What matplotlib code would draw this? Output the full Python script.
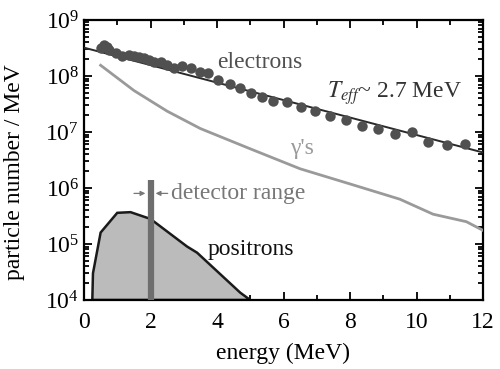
import matplotlib
matplotlib.use("Agg")
import matplotlib.pyplot as plt
from matplotlib.ticker import LogLocator, MultipleLocator, NullFormatter

plt.rcParams["font.family"] = ["Liberation Serif", "DejaVu Serif"]
plt.rcParams["mathtext.fontset"] = "stix"

# electron spectrum (measured points)
electron_energy = [0.5, 0.6, 0.7, 0.75, 0.96, 1.14, 1.35, 1.5, 1.65, 1.8, 1.95, 2.11, 2.32,
                   2.5, 2.71, 2.95, 3.22, 3.49, 3.73, 4.03, 4.39, 4.69, 5.02, 5.35, 5.68,
                   6.11, 6.53, 6.95, 7.4, 7.88, 8.36, 8.84, 9.35, 9.86, 10.35, 10.92, 11.46]
electron_counts = [3.2e8, 3.6e8, 3.3e8, 2.9e8, 2.6e8, 2.25e8, 2.35e8, 2.25e8, 2.15e8, 2.1e8,
                   1.9e8, 1.75e8, 1.75e8, 1.55e8, 1.4e8, 1.48e8, 1.38e8, 1.2e8, 1.12e8,
                   8.3e7, 7.1e7, 6.2e7, 4.9e7, 4.2e7, 3.6e7, 3.4e7, 2.75e7, 2.4e7, 1.95e7,
                   1.66e7, 1.29e7, 1.15e7, 9.3e6, 9.8e6, 6.5e6, 5.9e6, 6.2e6]

# exponential fit, T_eff ~ 2.7 MeV (straight on log axis)
fit_energy = [0, 12]
fit_counts = [3.2e8, 4.3e6]

# gamma spectrum
gamma_energy = [0.5, 1.5, 2.5, 3.5, 5.0, 6.5, 8.0, 9.5, 10.5, 11.5, 12.0]
gamma_counts = [1.55e8, 5.5e7, 2.35e7, 1.15e7, 5.0e6, 2.2e6, 1.18e6, 6.3e5, 3.4e5, 2.5e5, 1.75e5]

# positron spectrum
positron_energy = [0.25, 0.27, 0.5, 1.0, 1.4, 2.0, 3.1, 3.4, 4.7, 5.0]
positron_counts = [1e4, 3.0e4, 1.6e5, 3.6e5, 3.7e5, 2.8e5, 9.0e4, 7.0e4, 1.35e4, 1e4]

detector_energy = 2.0
detector_top = 1.4e6

fig = plt.figure(figsize=(5.0, 3.69), dpi=100)
ax = fig.add_axes([0.168, 0.187, 0.798, 0.759])

ax.fill(positron_energy, positron_counts, facecolor="#bbbbbb", edgecolor="#1a1a1a", lw=1.8,
        zorder=2)
ax.plot([detector_energy, detector_energy], [1e4, detector_top], color="#6e6e6e", lw=4.5,
        solid_capstyle="butt", zorder=3)
ax.plot(gamma_energy, gamma_counts, color="#9a9a9a", lw=2.0, zorder=3)
ax.plot(fit_energy, fit_counts, color="#2a2a2a", lw=1.4, zorder=4)
ax.plot(electron_energy, electron_counts, "o", color="#505050", ms=7.5, mec="none", zorder=5)

# detector range arrows
ax.annotate("", xy=(1.93, 8.0e5), xytext=(1.42, 8.0e5),
            arrowprops=dict(arrowstyle="-|>", color="#777777", lw=0.9, mutation_scale=7))
ax.annotate("", xy=(2.07, 8.0e5), xytext=(2.6, 8.0e5),
            arrowprops=dict(arrowstyle="-|>", color="#777777", lw=0.9, mutation_scale=7))

ax.text(2.62, 8.0e5, "detector range", color="#777777", fontsize=17, va="center", ha="left")
ax.text(4.0, 1.75e8, "electrons", color="#505050", fontsize=17, va="center", ha="left")
ax.text(7.3, 4.9e7, r"$T_{eff}$~ 2.7 MeV", color="#333333", fontsize=17, va="center",
        ha="left")
ax.text(6.2, 5.0e6, "γ's", color="#9a9a9a", fontsize=17, va="center", ha="left")
ax.text(3.73, 8.0e4, "positrons", color="#111111", fontsize=17, va="center", ha="left")

ax.set_yscale("log")
ax.set_xlim(0, 12)
ax.set_ylim(1e4, 1e9)
ax.xaxis.set_major_locator(MultipleLocator(2))
ax.xaxis.set_minor_locator(MultipleLocator(1))
ax.yaxis.set_major_locator(LogLocator(base=10, numticks=10))
ax.yaxis.set_minor_locator(LogLocator(base=10, subs=range(2, 10), numticks=10))
ax.yaxis.set_minor_formatter(NullFormatter())

ax.tick_params(which="both", direction="in", top=True, right=True, width=1.3,
               labelsize=17)
ax.tick_params(which="major", length=6)
ax.tick_params(which="minor", length=3.5)
ax.tick_params(axis="x", which="major", pad=9)
for s in ax.spines.values():
    s.set_linewidth(1.6)

ax.set_xlabel("energy (MeV)", fontsize=17, labelpad=7)
ax.set_ylabel("particle number / MeV", fontsize=17, labelpad=2)
ax.yaxis.set_label_coords(-0.148, 0.457)

fig.savefig("out.png", dpi=100)
